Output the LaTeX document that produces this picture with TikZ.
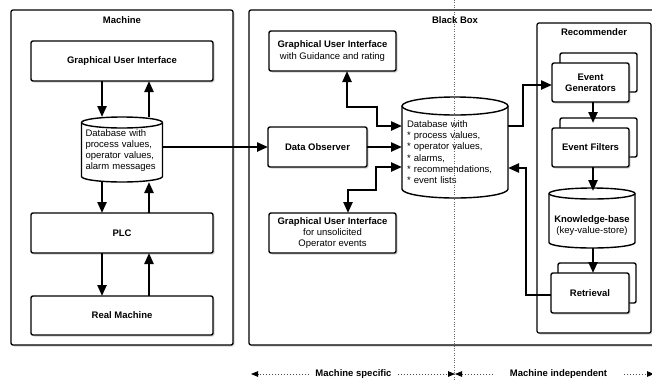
\documentclass[tikz,border=0pt]{standalone}
\usepackage{fontspec}
\setmainfont{Liberation Sans}
\usetikzlibrary{arrows.meta,shadows}

% database cylinder drawn around an empty anchor node: name, x radius, y radius
\newcommand\dbcyl[3]{%
  \draw[cylbody] ([yshift=-#3pt]#1.north west) -- ([yshift=#3pt]#1.south west)
    arc[start angle=180,end angle=360,x radius=#2pt,y radius=#3pt]
    -- ([yshift=-#3pt]#1.north east)
    arc[start angle=0,end angle=180,x radius=#2pt,y radius=#3pt] -- cycle;
  \draw[cylbody,fill=none] ([yshift=-#3pt]#1.north west)
    arc[start angle=180,end angle=360,x radius=#2pt,y radius=#3pt];
}

\begin{document}
\begin{tikzpicture}[x=1pt,y=1pt,
  font=\fontsize{9.5}{11.2}\selectfont,
  shade/.style={drop shadow={shadow xshift=1.5pt,shadow yshift=-1.5pt,opacity=0.35}},
  frame/.style={draw=black,line width=1.3pt,rounded corners=2pt,fill=white,
    inner sep=0pt,outer sep=0pt,shade},
  box/.style={draw=black,line width=1.4pt,rounded corners=2pt,fill=white,
    inner sep=0pt,outer sep=0pt,align=center,shade},
  stack/.style={copy shadow={shadow xshift=#1,shadow yshift=10pt,
    line width=1.4pt,rounded corners=2pt,draw=black,fill=white},box},
  stack/.default=8pt,
  anchorbox/.style={inner sep=0pt,outer sep=0pt,draw=none},
  cylbody/.style={draw=black,line width=1.4pt,fill=white},
  dbtext/.style={inner sep=0pt,align=left},
  title/.style={font=\fontsize{9.5}{11.2}\selectfont\bfseries},
  arr/.style={line width=2.3pt,-{Triangle[length=11pt,width=9pt]}},
  arrboth/.style={line width=2.3pt,{Triangle[length=11pt,width=9pt]}-{Triangle[length=11pt,width=9pt]}},
  dim/.style={draw=black!70,line width=0.8pt,dash pattern=on 0.8pt off 2.2pt,
    -{Triangle[length=7pt,width=5.5pt,fill=black,color=black]}},
  dimlabel/.style={font=\fontsize{9.5}{11.2}\selectfont\bfseries,inner ysep=0pt},
  divider/.style={draw=black!60,line width=0.9pt,dash pattern=on 0.8pt off 1.6pt}
]
\useasboundingbox (0,0) rectangle (652,-381);
\clip (0,0) rectangle (652,-381);

% outer frames
\node[frame,minimum width=222pt,minimum height=335pt] (machine) at (122,-177.5) {};
\node[frame,minimum width=416pt,minimum height=335pt] (blackbox) at (457,-177.5) {};
\node[frame,line width=1.2pt,minimum width=114pt,minimum height=310pt] (recommender) at (594,-178) {};

\node[title] (tmachine) at (122,-20) {Machine};
\node[title] (tblackbox) at (455,-20) {Black Box};
\node[title] (trecommender) at (594,-32) {Recommender};

% machine side
\node[box,minimum width=182pt,minimum height=40pt] (gui1) at (122,-61) {\textbf{Graphical User Interface}};
\node[box,minimum width=182pt,minimum height=40pt] (plc) at (122,-233) {\textbf{PLC}};
\node[box,minimum width=182pt,minimum height=39pt] (real) at (122,-315.5) {\textbf{Real Machine}};
\node[anchorbox,minimum width=81pt,minimum height=65pt] (db1) at (122,-149.5) {};
\dbcyl{db1}{40.5}{5.5}
\node[dbtext,text width=73pt] (db1text) at (122,-150.5)
  {Database with\\process values,\\operator values,\\alarm messages};

% black box
\node[box,minimum width=127pt,minimum height=40pt] (gui2) at (332.5,-51)
  {\textbf{Graphical User Interface}\\with Guidance and rating};
\node[box,minimum width=99pt,minimum height=40pt] (obs) at (317.5,-147) {\textbf{Data Observer}};
\node[box,minimum width=127pt,minimum height=40pt] (gui3) at (332.5,-233)
  {\textbf{Graphical User Interface}\\for unsolicited\\Operator events};
\node[anchorbox,minimum width=106pt,minimum height=101pt] (db2) at (455,-147.5) {};
\dbcyl{db2}{53}{9}
\node[dbtext,text width=96pt] (db2text) at (455,-152)
  {Database with\\{}* process values,\\{}* operator values,\\{}* alarms,\\{}* recommendations,\\{}* event lists};

% recommender
\node[stack,minimum width=77pt,minimum height=39pt] (evgen) at (590.5,-82.5) {\textbf{Event}\\\textbf{Generators}};
\node[stack,minimum width=77pt,minimum height=39pt] (filt) at (590.5,-147.5) {\textbf{Event Filters}};
\node[anchorbox,minimum width=86pt,minimum height=60pt] (kb) at (592,-218) {};
\dbcyl{kb}{43}{5.5}
\node[align=center,inner sep=0pt] (kbtext) at (592,-225.5) {\textbf{Knowledge-base}\\(key-value-store)};
\node[stack=7pt,minimum width=78pt,minimum height=40pt] (retr) at (590,-293) {\textbf{Retrieval}};

% connectors in the machine
\draw[arr] ([xshift=-20pt]gui1.south) -- ([xshift=-20pt]db1.north);
\draw[arr] ([xshift=27pt]db1.north) -- ([xshift=27pt]gui1.south);
\draw[arr] ([xshift=-20pt]db1.south) -- ([xshift=-20pt]plc.north);
\draw[arr] ([xshift=27pt]plc.north) -- ([xshift=27pt]db1.south);
\draw[arr] ([xshift=-20pt]plc.south) -- ([xshift=-20pt]real.north);
\draw[arr] ([xshift=27pt]real.north) -- ([xshift=27pt]plc.south);

% connectors in the black box
\draw[arr] (db1.east |- obs.west) -- (obs.west);
\draw[arr] (obs.east) -- (obs.east -| db2.west);
\draw[arrboth] ([xshift=14.5pt]gui2.south) |- (377,-107) |- ([yshift=21.5pt]db2.west);
\draw[arrboth] ([yshift=-19.5pt]db2.west) -| (376,-190) -| ([xshift=15.5pt]gui3.north);
\draw[arr] ([yshift=21.5pt]db2.east) -| (523,-85) -- ([yshift=-2.5pt]evgen.west);
\draw[arr] ([xshift=2.5pt]evgen.south) -- ([xshift=2.5pt,yshift=5pt]filt.north);
\draw[arr] ([xshift=2.5pt]filt.south) -- ([xshift=1pt,yshift=-3pt]kb.north);
\draw[arr] ([xshift=1pt]kb.south) -- ([xshift=3pt]retr.north);
\draw[arr] ([yshift=-2pt]retr.west) -| (526,-168) -- ([yshift=-20.5pt]db2.east);

% divider between machine specific and machine independent parts
\coordinate (divtop) at (454,0);
\coordinate (divbot) at (454,-381);
\draw[divider] (divtop) -- (divbot);

% scope labels
\node[dimlabel,inner xsep=6pt] (mspec) at (353.5,-374) {Machine specific};
\coordinate (mspecl) at (251,-374);
\coordinate (mspecr) at (455,-374);
\draw[dim] (mspec) -- (mspecl);
\draw[dim] (mspec) -- (mspecr);
\node[dimlabel,inner xsep=16.5pt] (mind) at (558.5,-374) {Machine independent};
\coordinate (mindl) at (455,-374);
\coordinate (mindr) at (654,-374);
\draw[dim] (mind) -- (mindl);
\draw[dim] (mind) -- (mindr);
\end{tikzpicture}
\end{document}
